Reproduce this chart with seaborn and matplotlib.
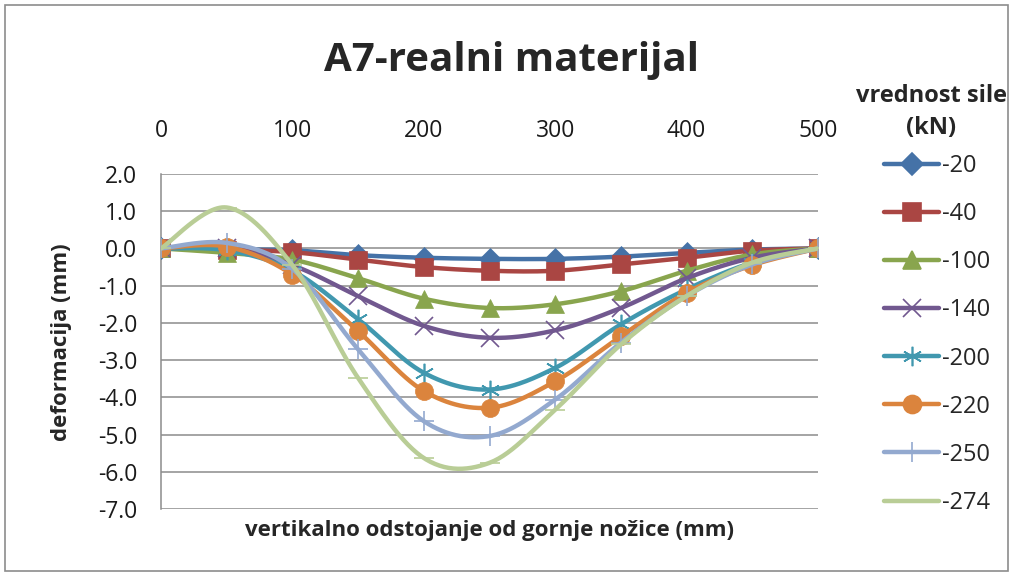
import numpy as np
import pandas as pd
import matplotlib
matplotlib.use("Agg")
import matplotlib.pyplot as plt
from matplotlib.lines import Line2D
from matplotlib.patches import Rectangle
import seaborn as sns

# ---- data ----
positions = [0, 50, 100, 150, 200, 250, 300, 350, 400, 450, 500]
forces = ["-20", "-40", "-100", "-140", "-200", "-220", "-250", "-274"]
s20 = [0, -0.02, -0.05, -0.18, -0.25, -0.28, -0.28, -0.22, -0.12, -0.03, 0]
s40 = [0, -0.03, -0.10, -0.30, -0.50, -0.60, -0.60, -0.43, -0.25, -0.06, 0]
s100 = [0, -0.12, -0.30, -0.80, -1.35, -1.60, -1.50, -1.15, -0.60, -0.16, 0]
s140 = [0, 0.00, -0.45, -1.28, -2.08, -2.40, -2.20, -1.60, -0.80, -0.25, 0]
s200 = [0, -0.05, -0.60, -1.90, -3.34, -3.79, -3.21, -2.04, -1.10, -0.38, 0]
s220 = [0, 0.05, -0.70, -2.22, -3.83, -4.28, -3.57, -2.36, -1.19, -0.45, 0]
s250 = [0, 0.15, -0.55, -2.71, -4.64, -5.04, -4.06, -2.53, -1.28, -0.43, 0]
s274 = [0, 1.10, -0.45, -3.48, -5.63, -5.76, -4.33, -2.58, -1.28, -0.38, 0]
series = [s20, s40, s100, s140, s200, s220, s250, s274]
xticks = [0, 100, 200, 300, 400, 500]
yticks = [2.0, 1.0, 0.0, -1.0, -2.0, -3.0, -4.0, -5.0, -6.0, -7.0]

# ---- style ----
colors = ["#4572A7", "#AA4643", "#89A54E", "#71588F", "#4198AF", "#DB843D", "#93A9CF", "#B9CD96"]
markers = ["D", "s", "^", "x", (6, 2, 0), "o", "+", "_"]
msizes = [11, 13, 13, 13, 14, 13, 15, 14]
FONT = ["Open Sans", "DejaVu Sans"]

sns.set_theme(style="white")
plt.rcParams["font.family"] = FONT


def smooth(xs, ys, n=30):
    """Excel-like smoothed line (Catmull-Rom as cubic Bezier)."""
    P = np.column_stack([xs, ys]).astype(float)
    Pe = np.vstack([P[0], P, P[-1]])
    out = []
    t = np.linspace(0, 1, n)[:, None]
    for i in range(len(P) - 1):
        p0, p1, p2, p3 = Pe[i], Pe[i + 1], Pe[i + 2], Pe[i + 3]
        c1 = p1 + (p2 - p0) / 6.0
        c2 = p2 - (p3 - p1) / 6.0
        seg = ((1 - t) ** 3) * p1 + 3 * ((1 - t) ** 2) * t * c1 + 3 * (1 - t) * t ** 2 * c2 + t ** 3 * p2
        out.append(seg if i == 0 else seg[1:])
    out = np.vstack(out)
    return out[:, 0], out[:, 1]


W, H = 1013, 576
fig = plt.figure(figsize=(W / 100, H / 100), dpi=100)
ax = fig.add_axes([161 / W, 1 - 509 / H, (818 - 161) / W, (509 - 174) / H])

for i, (name, vals) in enumerate(zip(forces, series)):
    sx, sy = smooth(positions, vals)
    df = pd.DataFrame({"x": sx, "y": sy})
    sns.lineplot(data=df, x="x", y="y", ax=ax, color=colors[i], linewidth=3.2,
                 sort=False, estimator=None, zorder=3 + i)
    pts = pd.DataFrame({"x": positions, "y": vals})
    line_art = markers[i] in ("x", "+", "_") or isinstance(markers[i], tuple)
    ax.plot(pts["x"], pts["y"], linestyle="none", marker=markers[i], markersize=msizes[i],
            color=colors[i], markeredgewidth=1.2 if line_art else 0.5,
            markeredgecolor=colors[i], zorder=3 + i)

ax.set_xlim(0, 500)
ax.set_ylim(-7, 2)
ax.set_xticks(xticks)
ax.set_xticklabels([str(v) for v in xticks])
ax.set_yticks(yticks)
ax.set_yticklabels([f"{v:.1f}" for v in yticks])
ax.xaxis.tick_top()
ax.tick_params(axis="x", length=0, pad=22, labelsize=16.5, colors="#1a1a1a")
ax.tick_params(axis="y", length=0, pad=17, labelsize=16.5, colors="#1a1a1a")
ax.grid(axis="y", color="#8c8c8c", linewidth=1.1)
ax.grid(axis="x", visible=False)
for s in ["top", "right", "bottom"]:
    ax.spines[s].set_visible(False)
ax.spines["left"].set_color("#8c8c8c")
ax.spines["left"].set_linewidth(1.1)
ax.set_xlabel("")
ax.set_ylabel("")

ax.text(0.5, -0.063, "vertikalno odstojanje od gornje nožice (mm)", transform=ax.transAxes,
        ha="center", va="center", fontsize=16, fontweight="bold")
fig.text(62 / W, 1 - 342 / H, "deformacija (mm)", rotation=90, ha="center", va="center",
         fontsize=16, fontweight="bold")
fig.text(512 / W, 1 - 60 / H, "A7-realni materijal", ha="center", va="center",
         fontsize=29, fontweight="bold")

# legend title as its own text, entries as a legend
fig.text(931 / W, 1 - 112 / H, "vrednost sile\n(kN)", ha="center", va="center",
         multialignment="center", linespacing=1.45, fontsize=17, fontweight="bold")
handles = [Line2D([0], [0], color=colors[i], linewidth=3.2, marker=markers[i],
                  markersize=msizes[i], markeredgecolor=colors[i], markeredgewidth=1.2)
           for i in range(len(forces))]
leg = fig.legend(handles, forces, loc="upper left",
                 bbox_to_anchor=(863 / W, 1 - 133 / H), frameon=False, fontsize=17,
                 handlelength=2.33, handletextpad=0.12, labelspacing=1.02)

fig.add_artist(Rectangle((5 / W, 5 / H), (W - 10) / W, (H - 10) / H, transform=fig.transFigure,
                         fill=False, edgecolor="#8c8c8c", linewidth=1.2))

fig.savefig("out.png", dpi=100)
